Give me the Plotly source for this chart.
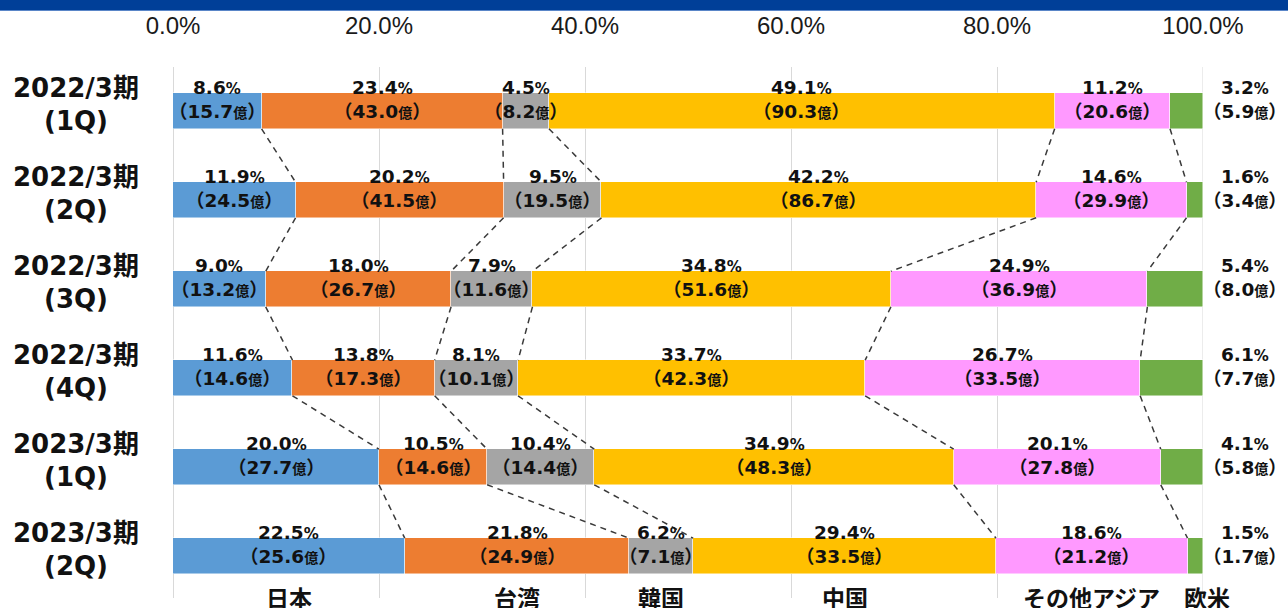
import plotly.graph_objects as go

periods_line1 = ["2022/3期", "2022/3期", "2022/3期", "2022/3期", "2023/3期", "2023/3期"]
periods_line2 = ["(1Q)", "(2Q)", "(3Q)", "(4Q)", "(1Q)", "(2Q)"]
regions = ["日本", "台湾", "韓国", "中国", "その他アジア", "欧米"]
colors = ["#5B9BD5", "#ED7D31", "#A5A5A5", "#FFC000", "#FF99FF", "#70AD47"]

# share (%) per row, per region
share_japan = [8.6, 11.9, 9.0, 11.6, 20.0, 22.5]
share_taiwan = [23.4, 20.2, 18.0, 13.8, 10.5, 21.8]
share_korea = [4.5, 9.5, 7.9, 8.1, 10.4, 6.2]
share_china = [49.1, 42.2, 34.8, 33.7, 34.9, 29.4]
share_other_asia = [11.2, 14.6, 24.9, 26.7, 20.1, 18.6]
share_west = [3.2, 1.6, 5.4, 6.1, 4.1, 1.5]

# amounts (億円)
amt_japan = [15.7, 24.5, 13.2, 14.6, 27.7, 25.6]
amt_taiwan = [43.0, 41.5, 26.7, 17.3, 14.6, 24.9]
amt_korea = [8.2, 19.5, 11.6, 10.1, 14.4, 7.1]
amt_china = [90.3, 86.7, 51.6, 42.3, 48.3, 33.5]
amt_other_asia = [20.6, 29.9, 36.9, 33.5, 27.8, 21.2]
amt_west = [5.9, 3.4, 8.0, 7.7, 5.8, 1.7]

tick_vals = [0, 20, 40, 60, 80, 100]
tick_text = ["0.0%", "20.0%", "40.0%", "60.0%", "80.0%", "100.0%"]

shares = [share_japan, share_taiwan, share_korea, share_china, share_other_asia, share_west]
amounts = [amt_japan, amt_taiwan, amt_korea, amt_china, amt_other_asia, amt_west]

W, H = 1288, 608
n_rows = len(share_japan)
rows = list(range(n_rows))
BAR_W = 0.40

fig = go.Figure()
for k, reg in enumerate(regions):
    fig.add_trace(go.Bar(
        y=rows, x=shares[k], orientation="h", name=reg,
        marker=dict(color=colors[k], line=dict(width=0.6, color="rgba(255,255,255,0.8)")),
        width=BAR_W, showlegend=False, hoverinfo="skip",
    ))

# cumulative boundaries
cum = []
for r in rows:
    acc = 0.0
    row_c = [0.0]
    for k in range(len(regions)):
        acc += shares[k][r]
        row_c.append(acc)
    cum.append(row_c)

# dashed connectors between consecutive rows at internal boundaries
for r in range(n_rows - 1):
    for b in range(1, len(regions)):
        fig.add_trace(go.Scatter(
            x=[cum[r][b], cum[r + 1][b]],
            y=[r + BAR_W / 2, r + 1 - BAR_W / 2],
            mode="lines",
            line=dict(color="#3A3A3A", width=1.5, dash="6px,5px"),
            showlegend=False, hoverinfo="skip",
        ))

LABEL_FONT = "DejaVu Sans, Noto Sans CJK JP, sans-serif"
PX_PER_ROW = 89.0
x0_px, x1_px = 173, 1203
top_px, bot_px = 67, 598

annotations = []
for r in rows:
    for k in range(len(regions)):
        s = shares[k][r]
        a = amounts[k][r]
        pct_txt = f"<b>{s:.1f}<span style='font-size:15px'>%</span></b>"
        amt_txt = f"<b>（{a:.1f}<span style='font-size:14px'>億</span>）</b>"
        if k == len(regions) - 1:
            xpos, xref = 1245 / W, "paper"
        else:
            xpos, xref = (cum[r][k] + cum[r][k + 1]) / 2, "x"
        annotations.append(dict(
            x=xpos, y=r - 24 / PX_PER_ROW, xref=xref, yref="y", text=pct_txt,
            showarrow=False, font=dict(size=18.5, color="#111111", family=LABEL_FONT),
            xanchor="center", yanchor="middle",
        ))
        annotations.append(dict(
            x=xpos, y=r, xref=xref, yref="y", text=amt_txt,
            showarrow=False, font=dict(size=18.5, color="#111111", family=LABEL_FONT),
            xanchor="center", yanchor="middle",
        ))
    # row labels
    annotations.append(dict(
        x=76 / W, y=r - 23 / PX_PER_ROW, xref="paper", yref="y",
        text=f"<b>{periods_line1[r]}</b>", showarrow=False,
        font=dict(size=26, color="#111111", family=LABEL_FONT),
        xanchor="center", yanchor="middle",
    ))
    annotations.append(dict(
        x=76 / W, y=r + 10 / PX_PER_ROW, xref="paper", yref="y",
        text=f"<b>{periods_line2[r]}</b>", showarrow=False,
        font=dict(size=26, color="#111111", family=LABEL_FONT),
        xanchor="center", yanchor="middle",
    ))

# bottom region labels, centred under last row segments
last = n_rows - 1
for k, reg in enumerate(regions):
    if k == len(regions) - 1:
        xpos, xref = 1207 / W, "paper"
    else:
        xpos, xref = (cum[last][k] + cum[last][k + 1]) / 2, "x"
    annotations.append(dict(
        x=xpos, y=(H - 578) / H, xref=xref, yref="paper",
        text=f"<b>{reg}</b>", showarrow=False,
        font=dict(size=23, color="#111111", family="Noto Sans CJK JP, sans-serif"),
        xanchor="center", yanchor="top",
    ))

# y range so that row r centre sits at pixel 111 + 89 r
y_top = -(111 - top_px) / PX_PER_ROW
y_bot = (bot_px - 111) / PX_PER_ROW

fig.update_layout(
    width=W, height=H,
    margin=dict(l=0, r=0, t=0, b=0, pad=0, autoexpand=False),
    paper_bgcolor="white", plot_bgcolor="white",
    barmode="stack", bargap=0,
    xaxis=dict(
        domain=[x0_px / W, x1_px / W], range=[0, 100], side="top",
        tickvals=tick_vals, ticktext=tick_text,
        showgrid=True, gridcolor="#D9D9D9", gridwidth=1,
        zeroline=True, zerolinecolor="#D9D9D9", zerolinewidth=1,
        showline=False, ticks="", ticklabelstandoff=27, automargin=False,
        tickfont=dict(size=24, color="#1A1A1A", family="Liberation Sans, Arial, sans-serif"),
        fixedrange=True,
    ),
    yaxis=dict(
        domain=[(H - bot_px) / H, (H - top_px) / H], range=[y_bot, y_top],
        showgrid=False, zeroline=False, showticklabels=False, showline=False,
        automargin=False, fixedrange=True,
    ),
    annotations=annotations,
    shapes=[
        dict(type="rect", xref="paper", yref="paper", x0=0, x1=1,
             y0=(H - 10) / H, y1=1, fillcolor="#003F98", line=dict(width=0), layer="above"),
        dict(type="line", xref="paper", yref="paper", x0=0, x1=1,
             y0=(H - 10.5) / H, y1=(H - 10.5) / H, line=dict(color="#5A86C8", width=1.2)),
        dict(type="line", xref="x", yref="paper", x0=100, x1=100,
             y0=(H - bot_px) / H, y1=(H - top_px) / H, line=dict(color="#D9D9D9", width=1), layer="below"),
    ],
)

fig.write_html("out.html")
